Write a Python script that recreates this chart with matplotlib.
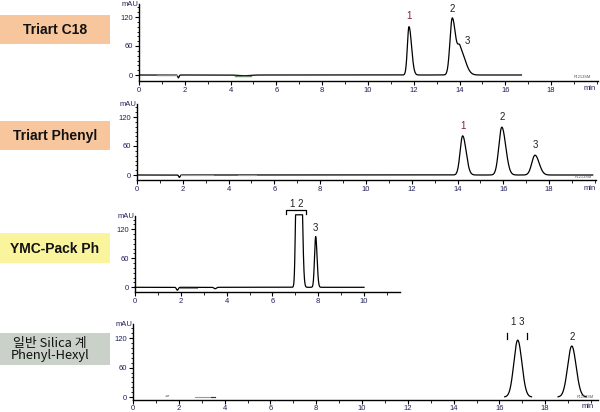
import numpy as np
import matplotlib
matplotlib.use("Agg")
import matplotlib.pyplot as plt
from matplotlib.ticker import MultipleLocator, FixedLocator
from matplotlib.patches import Rectangle

plt.rcParams['font.family'] = ['Liberation Sans', 'Noto Sans CJK KR', 'DejaVu Sans']

W, H = 600, 412

# ---- column names (left-hand boxes) ----
columns = ["Triart C18", "Triart Phenyl", "YMC-Pack Ph", "일반 Silica 계\nPhenyl-Hexyl"]
box_colors = ["#F7C69C", "#F7C69C", "#FAF49C", "#C9D1C8"]

# ---- peaks: retention time (min), height (mAU), left/right widths (min) ----
c18_rt = [11.79, 13.68, 14.02]
c18_h = [100, 118, 52]
c18_sl = [0.07, 0.10, 0.10]
c18_sr = [0.11, 0.15, 0.22]
c18_labels = ["1", "2", "3"]

phenyl_rt = [14.22, 15.93, 17.38]
phenyl_h = [81, 99, 41]
phenyl_sl = [0.11, 0.13, 0.14]
phenyl_sr = [0.15, 0.17, 0.18]
phenyl_labels = ["1", "2", "3"]

ymc_rt = [7.07, 7.23, 7.89]
ymc_h = [330, 330, 105]
ymc_sl = [0.05, 0.05, 0.05]
ymc_sr = [0.06, 0.07, 0.06]
ymc_saturation = 150

hexyl_rt = [16.80, 19.16]
hexyl_h = [116, 104]
hexyl_sl = [0.17, 0.18]
hexyl_sr = [0.18, 0.19]

# small baseline disturbances: time, height, width
c18_blip_t = [1.72, 4.6]
c18_blip_h = [-6, -1.5]
c18_blip_w = [0.03, 0.25]
phenyl_blip_t = [1.85]
phenyl_blip_h = [-5]
phenyl_blip_w = [0.03]
ymc_blip_t = [1.85, 3.5]
ymc_blip_h = [-6, -3]
ymc_blip_w = [0.04, 0.05]

run_end = [16.7, 19.9, 10.0, 19.9]
x_ticks = [0, 2, 4, 6, 8, 10, 12, 14, 16, 18]


def trace(t, rt, h, sl, sr):
    y = np.zeros_like(t)
    for c, a, l, r in zip(rt, h, sl, sr):
        s = np.where(t < c, l, r)
        y += a * np.exp(-0.5 * ((t - c) / s) ** 2)
    return y


def blips(t, bt, bh, bw):
    y = np.zeros_like(t)
    for c, a, w in zip(bt, bh, bw):
        y += a * np.exp(-0.5 * ((t - c) / w) ** 2)
    return y


fig = plt.figure(figsize=(W / 100, H / 100), dpi=100)

TICK_C = "#1F1F5A"


def make_axes(left, right, top, axis_y, zero_y, xmax, ppu, ticks):
    ax = fig.add_axes([left / W, 1 - axis_y / H, (right - left) / W, (axis_y - top) / H])
    ax.set_xlim(0, xmax)
    ax.set_ylim(-(axis_y - zero_y) / ppu, (zero_y - top) / ppu)
    for s in ("top", "right"):
        ax.spines[s].set_visible(False)
    for s in ("left", "bottom"):
        ax.spines[s].set_linewidth(1.0)
    ax.xaxis.set_major_locator(FixedLocator(ticks))
    ax.xaxis.set_minor_locator(MultipleLocator(1))
    ax.yaxis.set_major_locator(FixedLocator([0, 60, 120]))
    ax.yaxis.set_minor_locator(FixedLocator(list(range(10, 150, 10))))
    ax.tick_params(axis="both", which="major", length=3, width=0.8, labelsize=5.5,
                   labelcolor=TICK_C, pad=1.5)
    ax.tick_params(axis="x", which="major", pad=1.0)
    ax.tick_params(axis="both", which="minor", length=1.8, width=0.6)
    ax.patch.set_alpha(0)
    ax.text(-0.002, 1.0, "mAU", transform=ax.transAxes, ha="right", va="center",
            fontsize=5.5, color=TICK_C)
    return ax


def min_label(x_px, y_px):
    fig.text(x_px / W, 1 - y_px / H, "min", ha="center", va="center", fontsize=5.5, color=TICK_C)


def stamp(x_px, y_px):
    fig.text(x_px / W, 1 - y_px / H, "P1213SM", ha="center", va="center",
             fontsize=2.8, color="#555555")


PPU = 29 / 60.0
SCALE = 22.9

# ---- left boxes ----
boxes = [(15, 44), (121, 150), (233, 263), (333, 365)]
bax = fig.add_axes([0, 0, 1, 1])
bax.set_xlim(0, W)
bax.set_ylim(H, 0)
bax.axis("off")
for (y0, y1), col, name in zip(boxes, box_colors, columns):
    bax.add_patch(Rectangle((0, y0), 110, y1 - y0, facecolor=col, edgecolor="none"))
    if "\n" in name:
        bax.text(50, (y0 + y1) / 2 + 0.5, name, ha="center", va="center", fontsize=9.3,
                 family=["Noto Sans CJK KR", "DejaVu Sans"], linespacing=0.85, color="#111111")
    else:
        bax.text(55, (y0 + y1) / 2 + 0.5, name, ha="center", va="center", fontsize=10,
                 fontweight="bold", color="#111111")

# ---- Triart C18 ----
ax1 = make_axes(139, 598, 4, 81, 75, (598 - 139) / SCALE, PPU, x_ticks)
t = np.linspace(0, run_end[0], 3000)
y = trace(t, c18_rt, c18_h, c18_sl, c18_sr) + blips(t, c18_blip_t, c18_blip_h, c18_blip_w)
ax1.plot(t, y, color="black", lw=0.9)
ax1.plot([0.8, 1.65], [-1, -1], color="#888888", lw=1.0)
ax1.plot([4.2, 4.9], [-1.5, -1.5], color="#6A8A6A", lw=1.0)
lab_col = ["#7A1F4A", "#202020", "#202020"]
offs = [(0, 12), (0, 8), (0.3, 8)]
for rt, h, lab, c, (dx, dy) in zip(c18_rt, c18_h, c18_labels, lab_col, offs):
    ax1.text(rt + dx, h + dy, lab, ha="center", va="bottom", fontsize=7, color=c)
min_label(590, 88)
stamp(582, 77)

# ---- Triart Phenyl ----
ax2 = make_axes(137, 596, 104, 180, 175, (596 - 137) / SCALE, PPU, x_ticks)
t = np.linspace(0, run_end[1], 3000)
y = trace(t, phenyl_rt, phenyl_h, phenyl_sl, phenyl_sr) + blips(t, phenyl_blip_t, phenyl_blip_h, phenyl_blip_w)
ax2.plot(t, y, color="black", lw=0.9)
ax2.plot([1.9, 3.3], [-1, -1], color="#999999", lw=0.8)
ax2.plot([4.4, 5.2], [-1, -1], color="#999999", lw=0.8)
lab_col = ["#7A1F4A", "#202020", "#202020"]
for rt, h, lab, c in zip(phenyl_rt, phenyl_h, phenyl_labels, lab_col):
    ax2.text(rt, h + 10, lab, ha="center", va="bottom", fontsize=7, color=c)
min_label(590, 188)
stamp(583, 177)

# ---- YMC-Pack Ph ----
ax3 = make_axes(135, 400, 216, 292, 287.3, (400 - 135) / SCALE, PPU, x_ticks[:6])
t = np.linspace(0, run_end[2], 4000)
y = trace(t, ymc_rt, ymc_h, ymc_sl, ymc_sr) + blips(t, ymc_blip_t, ymc_blip_h, ymc_blip_w)
y = np.minimum(y, ymc_saturation)
ax3.plot(t, y, color="black", lw=0.9, clip_on=False)
ax3.plot([1.9, 2.7], [-1.5, -1.5], color="#888888", lw=0.8)
# bracket over the co-eluting pair
bx0, bx1 = ymc_rt[0] - 0.46, ymc_rt[1] + 0.25
by = ymc_saturation + 10
ax3.plot([bx0, bx0, bx1, bx1], [by - 9, by, by, by - 9], color="black", lw=0.9, clip_on=False)
ax3.text((bx0 + bx1) / 2, by + 3, "1 2", ha="center", va="bottom", fontsize=7, color="#202020")
ax3.text(ymc_rt[2], ymc_h[2] + 8, "3", ha="center", va="bottom", fontsize=7, color="#202020")

# ---- Phenyl-Hexyl ----
ppu4 = 0.49
ax4 = make_axes(133, 598, 324, 400, 397, (598 - 133) / SCALE, ppu4, x_ticks)
ax4.tick_params(axis="x", which="major", pad=0.5)
t = np.linspace(0, run_end[3], 4000)
y = trace(t, hexyl_rt, hexyl_h, hexyl_sl, hexyl_sr)
y_peaks = np.where(y > 0.4, y, np.nan)
ax4.plot(t, y_peaks, color="black", lw=0.9)
ax4.plot([1.45, 1.55], [1.5, 2.5], color="#777777", lw=0.8)
ax4.plot([2.7, 3.6], [0.5, 0.5], color="#999999", lw=0.8)
ax4.plot([3.4, 3.6], [0.5, 0.5], color="#333333", lw=0.8)
ax4.text(hexyl_rt[0], hexyl_h[0] + 26, "1 3", ha="center", va="bottom", fontsize=7, color="#202020")
for dx in (-0.45, 0.42):
    ax4.plot([hexyl_rt[0] + dx] * 2, [hexyl_h[0] + 2, hexyl_h[0] + 14], color="black", lw=0.9)
ax4.text(hexyl_rt[1], hexyl_h[1] + 8, "2", ha="center", va="bottom", fontsize=7, color="#202020")
min_label(588, 407)
stamp(585, 397)

fig.savefig("out.png", dpi=100)
